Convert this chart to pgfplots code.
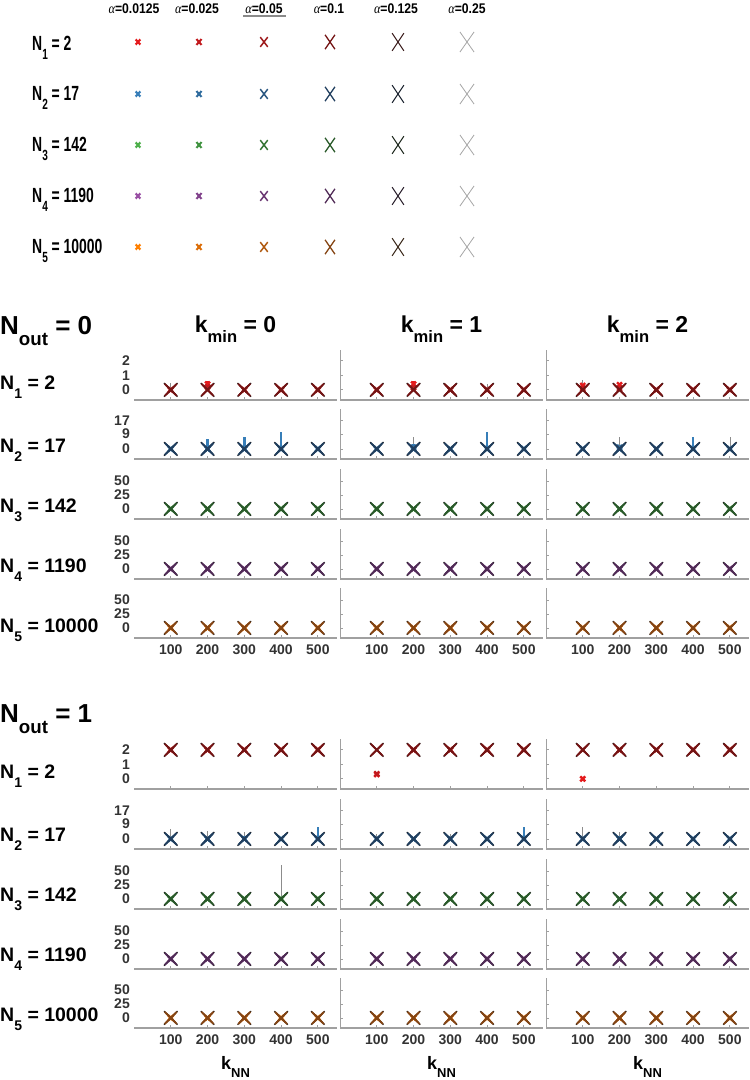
\documentclass[border=0pt]{standalone}
\usepackage{fontspec}
\setmainfont{Liberation Sans}
\newfontfamily\legfont[FakeStretch=0.68]{Liberation Sans}
\newfontfamily\hdrfont[FakeStretch=0.87]{Liberation Sans}
\newfontfamily\alffont[FakeStretch=0.87]{Liberation Serif}
\usepackage{graphicx}
\usepackage{pgfplots}
\usepackage{pgfplotstable}
\pgfplotsset{compat=1.18}

% colours: set (R,B,G,P,O) x alpha index (1=0.0125,2=0.025,3=0.05,4=0.1,5=0.125)
\definecolor{R1}{HTML}{E41A1C}\definecolor{R2}{HTML}{C21A1E}\definecolor{R3}{HTML}{9E1A1C}\definecolor{R4}{HTML}{741414}\definecolor{R5}{HTML}{3E2020}
\definecolor{B1}{HTML}{377EB8}\definecolor{B2}{HTML}{306C9E}\definecolor{B3}{HTML}{2A5781}\definecolor{B4}{HTML}{213F5F}\definecolor{B5}{HTML}{1C2430}
\definecolor{G1}{HTML}{4DAF4A}\definecolor{G2}{HTML}{409340}\definecolor{G3}{HTML}{357535}\definecolor{G4}{HTML}{2A5A2A}\definecolor{G5}{HTML}{202A20}
\definecolor{P1}{HTML}{984EA3}\definecolor{P2}{HTML}{82438C}\definecolor{P3}{HTML}{6A3772}\definecolor{P4}{HTML}{512B57}\definecolor{P5}{HTML}{2C222E}
\definecolor{O1}{HTML}{FF7F00}\definecolor{O2}{HTML}{DB6D08}\definecolor{O3}{HTML}{B05A10}\definecolor{O4}{HTML}{854514}\definecolor{O5}{HTML}{3E2C1E}
\definecolor{L25}{HTML}{A5A5A5}
\definecolor{pan25}{HTML}{E4E4E4}
\definecolor{errgray}{HTML}{8C8C8C}
\definecolor{axgray}{HTML}{A0A0A0}
\definecolor{tickgray}{HTML}{333333}
\definecolor{ulgray}{HTML}{8A8A8A}

\newcommand{\sub}[1]{\raisebox{-0.42em}{\scalebox{0.72}{#1}}}

% ---------- data: k, y(0.0125), err(0.0125), y(0.025), y(0.05), y(0.1), y(0.125), y(0.25), err(0.25)
\pgfplotstableread{
k y1 e1 y2 y3 y4 y5 y6 e6
100 0 0 0 0 0 0 0 0
200 0 0 0 0 0 0 0 0
300 0 0 0 0 0 0 0 0
400 0 0 0 0 0 0 0 0
500 0 0 0 0 0 0 0 0
}\dzero
\pgfplotstableread{
k y1 e1 y2 y3 y4 y5 y6 e6
100 2 0 2 2 2 2 2 0
200 2 0 2 2 2 2 2 0
300 2 0 2 2 2 2 2 0
400 2 0 2 2 2 2 2 0
500 2 0 2 2 2 2 2 0
}\dtwo
% N_out = 0
\pgfplotstableread{
k y1 e1 y2 y3 y4 y5 y6 e6
100 0 0 0 0 0 0 0 0.5
200 0.4 0.2 0.2 0 0 0 0 0
300 0 0 0 0 0 0 0 0
400 0 0 0 0 0 0 0 0
500 0 0 0 0 0 0 0 0
}\dZaA
\pgfplotstableread{
k y1 e1 y2 y3 y4 y5 y6 e6
100 0 0 0 0 0 0 0 0
200 0.4 0.2 0.15 0 0 0 0 0
300 0 0 0 0 0 0 0 0
400 0 0 0 0 0 0 0 0.4
500 0 0 0 0 0 0 0 0
}\dZaB
\pgfplotstableread{
k y1 e1 y2 y3 y4 y5 y6 e6
100 0.3 0.1 0.1 0 0 0 0 0.7
200 0.35 0.15 0.1 0 0 0 0 0.3
300 0 0 0 0 0 0 0 0
400 0 0 0 0 0 0 0 0
500 0 0 0 0 0 0 0 0
}\dZaC
\pgfplotstableread{
k y1 e1 y2 y3 y4 y5 y6 e6
100 0 0 0 0 0 0 0 0
200 0 6 0 0 0 0 0 0
300 0 7.5 0 0 0 0 0 0
400 0 10 0 0 0 0 0 0
500 0 0 0 0 0 0 0 0
}\dZbA
\pgfplotstableread{
k y1 e1 y2 y3 y4 y5 y6 e6
100 0 0 0 0 0 0 0 0
200 0 3 1 0 0 0 0 7
300 0 0 0 0 0 0 0 0
400 0 10 0 0 0 0 0 0
500 0 0 0 0 0 0 0 0
}\dZbB
\pgfplotstableread{
k y1 e1 y2 y3 y4 y5 y6 e6
100 0 0 0 0 0 0 0 0
200 0 2 1 0 0 0 0 7
300 0 0 0 0 0 0 0 0
400 0 7.5 0 0 0 0 0 0
500 0 0 0 0 0 0 0 7
}\dZbC
% N_out = 1
\pgfplotstableread{
k y1 e1 y2 y3 y4 y5 y6 e6
100 0.3 0.2 0.35 2 2 2 2 0
200 2 0 2 2 2 2 2 0
300 2 0 2 2 2 2 2 0
400 2 0 2 2 2 2 2 0
500 2 0 2 2 2 2 2 0
}\dWaB
\pgfplotstableread{
k y1 e1 y2 y3 y4 y5 y6 e6
100 0 0 2 2 2 2 2 0
200 2 0 2 2 2 2 2 0
300 2 0 2 2 2 2 2 0
400 2 0 2 2 2 2 2 0
500 2 0 2 2 2 2 2 0
}\dWaC
\pgfplotstableread{
k y1 e1 y2 y3 y4 y5 y6 e6
100 0 0 0 0 0 0 0 6
200 0 0 0 0 0 0 0 5
300 0 2 0 0 0 0 0 4
400 0 0 0 0 0 0 0 0
500 0 7 0 0 0 0 0 0
}\dWbA
\pgfplotstableread{
k y1 e1 y2 y3 y4 y5 y6 e6
100 0 0 0 0 0 0 0 3
200 0 0 0 0 0 0 0 0
300 0 0 0 0 0 0 0 3
400 0 0 0 0 0 0 0 0
500 0 7.5 0 0 0 0 0 0
}\dWbB
\pgfplotstableread{
k y1 e1 y2 y3 y4 y5 y6 e6
100 0 0 0 0 0 0 0 7
200 0 2 0 0 0 0 0 4
300 0 0 0 0 0 0 0 0
400 0 0 0 0 0 0 0 0
500 0 0 0 0 0 0 0 0
}\dWbC
\pgfplotstableread{
k y1 e1 y2 y3 y4 y5 y6 e6
100 0 0 0 0 0 0 0 0
200 0 0 0 0 0 0 0 0
300 0 0 0 0 0 0 0 0
400 0 0 0 0 0 0 0 61
500 0 0 0 0 0 0 0 0
}\dWcA

\pgfplotsset{
 panel/.style={scale only axis, width=203pt, height=50pt, anchor=south west,
   xmin=0, xmax=552, xtick={100,200,300,400,500},
   axis x line*=bottom, axis y line*=left,
   x axis line style={-, draw=axgray, line width=1.3pt},
   y axis line style={-, draw=axgray, line width=1.0pt},
   tick align=inside, major tick length=3pt,
   tick style={draw=axgray, line width=0.8pt},
   clip=false,
   /pgf/number format/assume math mode=true,
   tick label style={font=\bfseries\fontsize{14}{15}\selectfont, text=tickgray},
   xticklabel style={yshift=-3pt},
   yticklabel style={inner ysep=0pt, inner xsep=4pt},
 },
 rowa/.style={ymin=-0.7, ymax=2.75, ytick={0,1,2}},
 rowb/.style={ymin=-6.1, ymax=24.2, ytick={0,9,17}},
 rowc/.style={ymin=-18, ymax=71.3, ytick={0,25,50}},
 colfirst/.style={y axis line style={draw=none}, ytick style={draw=none}},
 colother/.style={yticklabels={}},
 xlab/.style={},
 noxlab/.style={xticklabels={}},
}

% #1 x-left (px) #2 y-bottom (px from top) #3 row style #4 colour set #5 table #6 column style #7 x label style
\newcommand{\panel}[7]{%
\begin{axis}[panel,#3,#6,#7,at={(#1pt,1080pt-#2pt)}]
\addplot[only marks, mark=x, mark size=10pt, draw=pan25, line width=0.7pt,
  error bars/.cd, y dir=plus, y explicit, error bar style={draw=errgray, line width=0.7pt}, error mark=none]
  table[x=k, y=y6, y error=e6] {#5};
\addplot[only marks, mark=x, mark size=3.5pt, draw=#41, line width=2.4pt,
  error bars/.cd, y dir=plus, y explicit, error bar style={draw=#41, line width=2.6pt}, error mark=none]
  table[x=k, y=y1, y error=e1] {#5};
\addplot[only marks, mark=x, mark size=3.5pt, draw=#42, line width=2.2pt] table[x=k,y=y2] {#5};
\addplot[only marks, mark=x, mark size=6.5pt, draw=#43, line width=1.8pt] table[x=k,y=y3] {#5};
\addplot[only marks, mark=x, mark size=9.5pt, draw=#45, line width=1.4pt] table[x=k,y=y5] {#5};
\addplot[only marks, mark=x, mark size=8.5pt, draw=#44, line width=1.8pt] table[x=k,y=y4] {#5};
\end{axis}}

% legend marker: colour, size, line width, yscale, x, y
\newcommand{\lm}[6]{\addplot[only marks, mark=x, mark size=#2pt, draw=#1, line width=#3pt, mark options={yscale=#4}] coordinates {(#5,#6)};}

\begin{document}
\begin{tikzpicture}
\useasboundingbox (0,0) rectangle (750pt,1080pt);

% ---------------- legend (key) ----------------
\begin{axis}[at={(0pt,690pt)}, anchor=south west, scale only axis, width=750pt, height=390pt,
  xmin=0, xmax=750, ymin=0, ymax=390, y dir=reverse, axis lines=none, clip=false]
% alpha = 0.0125
\lm{R1}{3.3}{2.2}{1.1}{138}{42} \lm{B1}{3.3}{2.2}{1.1}{138}{94} \lm{G1}{3.3}{2.2}{1.1}{138}{145} \lm{P1}{3.3}{2.2}{1.1}{138}{196} \lm{O1}{3.3}{2.2}{1.1}{138}{247}
% alpha = 0.025
\lm{R2}{3.6}{2.0}{1.15}{199}{42} \lm{B2}{3.6}{2.0}{1.15}{199}{94} \lm{G2}{3.6}{2.0}{1.15}{199}{145} \lm{P2}{3.6}{2.0}{1.15}{199}{196} \lm{O2}{3.6}{2.0}{1.15}{199}{247}
% alpha = 0.05
\lm{R3}{5.3}{1.5}{1.3}{264}{42} \lm{B3}{5.3}{1.5}{1.3}{264}{94} \lm{G3}{5.3}{1.5}{1.3}{264}{145} \lm{P3}{5.3}{1.5}{1.3}{264}{196} \lm{O3}{5.3}{1.5}{1.3}{264}{247}
% alpha = 0.1
\lm{R4}{7}{1.3}{1.45}{330}{42} \lm{B4}{7}{1.3}{1.45}{330}{94} \lm{G4}{7}{1.3}{1.45}{330}{145} \lm{P4}{7}{1.3}{1.45}{330}{196} \lm{O4}{7}{1.3}{1.45}{330}{247}
% alpha = 0.125
\lm{R5}{8.3}{1.0}{1.5}{398}{42} \lm{B5}{8.3}{1.0}{1.5}{398}{94} \lm{G5}{8.3}{1.0}{1.5}{398}{145} \lm{P5}{8.3}{1.0}{1.5}{398}{196} \lm{O5}{8.3}{1.0}{1.5}{398}{247}
% alpha = 0.25
\lm{L25}{10}{0.8}{1.42}{467}{42} \lm{L25}{10}{0.8}{1.42}{467}{94} \lm{L25}{10}{0.8}{1.42}{467}{145} \lm{L25}{10}{0.8}{1.42}{467}{196} \lm{L25}{10}{0.8}{1.42}{467}{247}
\end{axis}

% ---------------- N_out = 0 ----------------
\panel{134}{400}{rowa}{R}{\dZaA}{colfirst}{noxlab}
\panel{340}{400}{rowa}{R}{\dZaB}{colother}{noxlab}
\panel{546}{400}{rowa}{R}{\dZaC}{colother}{noxlab}
\panel{134}{459}{rowb}{B}{\dZbA}{colfirst}{noxlab}
\panel{340}{459}{rowb}{B}{\dZbB}{colother}{noxlab}
\panel{546}{459}{rowb}{B}{\dZbC}{colother}{noxlab}
\panel{134}{519}{rowc}{G}{\dzero}{colfirst}{noxlab}
\panel{340}{519}{rowc}{G}{\dzero}{colother}{noxlab}
\panel{546}{519}{rowc}{G}{\dzero}{colother}{noxlab}
\panel{134}{579}{rowc}{P}{\dzero}{colfirst}{noxlab}
\panel{340}{579}{rowc}{P}{\dzero}{colother}{noxlab}
\panel{546}{579}{rowc}{P}{\dzero}{colother}{noxlab}
\panel{134}{638}{rowc}{O}{\dzero}{colfirst}{xlab}
\panel{340}{638}{rowc}{O}{\dzero}{colother}{xlab}
\panel{546}{638}{rowc}{O}{\dzero}{colother}{xlab}

% ---------------- N_out = 1 ----------------
\panel{134}{789}{rowa}{R}{\dtwo}{colfirst}{noxlab}
\panel{340}{789}{rowa}{R}{\dWaB}{colother}{noxlab}
\panel{546}{789}{rowa}{R}{\dWaC}{colother}{noxlab}
\panel{134}{849}{rowb}{B}{\dWbA}{colfirst}{noxlab}
\panel{340}{849}{rowb}{B}{\dWbB}{colother}{noxlab}
\panel{546}{849}{rowb}{B}{\dWbC}{colother}{noxlab}
\panel{134}{909}{rowc}{G}{\dWcA}{colfirst}{noxlab}
\panel{340}{909}{rowc}{G}{\dzero}{colother}{noxlab}
\panel{546}{909}{rowc}{G}{\dzero}{colother}{noxlab}
\panel{134}{969}{rowc}{P}{\dzero}{colfirst}{noxlab}
\panel{340}{969}{rowc}{P}{\dzero}{colother}{noxlab}
\panel{546}{969}{rowc}{P}{\dzero}{colother}{noxlab}
\panel{134}{1028}{rowc}{O}{\dzero}{colfirst}{xlab}
\panel{340}{1028}{rowc}{O}{\dzero}{colother}{xlab}
\panel{546}{1028}{rowc}{O}{\dzero}{colother}{xlab}

% ---------------- text ----------------
\begin{scope}[x=1pt,y=-1pt,shift={(0pt,1080pt)}]
% alpha headers
\begin{scope}[every node/.style={anchor=base, inner sep=0, font=\hdrfont\bfseries\fontsize{14}{16}\selectfont}]
\node at (134,14) {{\alffont\mdseries\itshape α}=0.0125};
\node at (197,14) {{\alffont\mdseries\itshape α}=0.025};
\node at (264,14) {{\alffont\mdseries\itshape α}=0.05};
\node at (329,14) {{\alffont\mdseries\itshape α}=0.1};
\node at (396,14) {{\alffont\mdseries\itshape α}=0.125};
\node at (467,14) {{\alffont\mdseries\itshape α}=0.25};
\end{scope}
\fill[ulgray] (243,15) rectangle (286,16.6);
% legend row labels
\begin{scope}[every node/.style={anchor=base west, inner sep=0, font=\legfont\bfseries\fontsize{20.5}{22}\selectfont}]
\node at (32,51) {N\sub{1} = 2};
\node at (32,101) {N\sub{2} = 17};
\node at (32,152) {N\sub{3} = 142};
\node at (32,203) {N\sub{4} = 1190};
\node at (32,254) {N\sub{5} = 10000};
\end{scope}
% section titles
\begin{scope}[every node/.style={anchor=base west, inner sep=0, font=\bfseries\fontsize{26}{28}\selectfont}]
\node at (0,335) {N\sub{out} = 0};
\node at (0,723) {N\sub{out} = 1};
\end{scope}
% column headers
\begin{scope}[every node/.style={anchor=base, inner sep=0, font=\bfseries\fontsize{23}{25}\selectfont}]
\node at (235.5,333) {k\sub{min} = 0};
\node at (441.5,333) {k\sub{min} = 1};
\node at (647.5,333) {k\sub{min} = 2};
\end{scope}
% row labels
\begin{scope}[every node/.style={anchor=base west, inner sep=0, font=\bfseries\fontsize{19.5}{21}\selectfont}]
\node at (0,390) {N\sub{1} = 2};
\node at (0,453) {N\sub{2} = 17};
\node at (0,513) {N\sub{3} = 142};
\node at (0,573) {N\sub{4} = 1190};
\node at (0,633) {N\sub{5} = 10000};
\node at (0,779) {N\sub{1} = 2};
\node at (0,842) {N\sub{2} = 17};
\node at (0,902) {N\sub{3} = 142};
\node at (0,962) {N\sub{4} = 1190};
\node at (0,1022) {N\sub{5} = 10000};
\end{scope}
% x labels
\begin{scope}[every node/.style={anchor=base, inner sep=0, font=\bfseries\fontsize{18}{20}\selectfont}]
\node at (235.5,1070) {k\sub{NN}};
\node at (441.5,1070) {k\sub{NN}};
\node at (647.5,1070) {k\sub{NN}};
\end{scope}
\end{scope}
\end{tikzpicture}
\end{document}
